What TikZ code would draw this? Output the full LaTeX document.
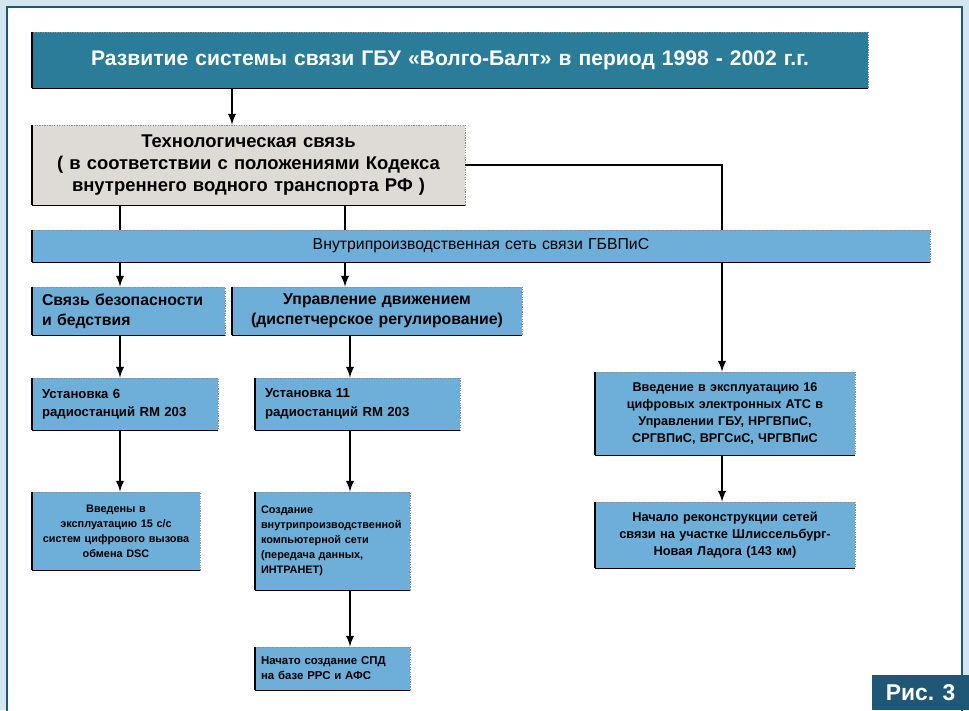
\documentclass[tikz,border=0pt]{standalone}
\usepackage{fontspec}
\setmainfont{Liberation Sans}
\usepackage{tikz}
\usetikzlibrary{arrows, positioning, calc}
\definecolor{frame-bg}{HTML}{D3E5EF}
\definecolor{frame-line}{HTML}{1F5876}
\definecolor{head-teal}{HTML}{2B7C98}
\definecolor{box-blue}{HTML}{6DAFD9}
\definecolor{box-grey}{HTML}{DEDAD6}

\begin{document}
\begin{tikzpicture}[x=0.02cm, y=-0.02cm,
    blok/.style={draw=black!45, dash pattern=on 0.7pt off 0.7pt, fill=box-blue, inner xsep=0.2cm, inner ysep=0pt,
        font=\bfseries, align=left,
        append after command={(\tikzlastnode.north west) edge[solid, line width=1.3pt, black] (\tikzlastnode.south west)
            (\tikzlastnode.south west) edge[solid, line width=0.6pt, black] (\tikzlastnode.south east)}},
    head/.style={blok, fill=head-teal, text=white, font=\bfseries\fontsize{12}{14}\selectfont, align=center},
    tech/.style={blok, fill=box-grey, font=\bfseries\fontsize{10.5}{12.5}\selectfont, align=center},
    ln/.style={line width=1.1pt},
    arr/.style={-latex, line width=1.1pt}
]
    \useasboundingbox (0,0) rectangle (969,710);
    \fill [frame-bg] (0,0) rectangle (969,710);
    \filldraw [fill=white, draw=frame-line, line width=1.3pt] (7,7) rectangle (962,720);

    \coordinate (c0) at (232,0);
    \coordinate (c1) at (120,0);
    \coordinate (c2) at (345,0);
    \coordinate (c2b) at (350,0);
    \coordinate (c3) at (722,0);

    \node (title) [head, text width=16.32cm, minimum height=1.12cm] at (450,60)
        {Развитие системы связи ГБУ «Волго-Балт» в период 1998 - 2002 г.г.};
    \node (tech) [tech, text width=8.26cm, minimum height=1.6cm] at (248.5,165)
        {Технологическая связь\\( в соответствии с положениями Кодекса\\внутреннего водного транспорта РФ )};
    \node (bar) [blok, align=center, text width=17.56cm, minimum height=0.64cm,
        font=\fontsize{9}{10}\selectfont] at (481,246)
        {Внутрипроизводственная сеть связи ГБВПиС};

    \node (safe) [blok, text width=3.46cm, minimum height=0.96cm, font=\bfseries\fontsize{9}{11.5}\selectfont] at (128.5,311)
        {Связь безопасности\\и бедствия};
    \node (traffic) [blok, align=center, text width=5.4cm, minimum height=0.96cm, font=\bfseries\fontsize{9}{11.5}\selectfont] at (377,311)
        {Управление движением\\(диспетчерское регулирование)};

    \node (radio6) [blok, text width=3.32cm, minimum height=1.04cm, font=\bfseries\fontsize{7.5}{10.5}\selectfont] at (125,404)
        {Установка 6\\радиостанций RM 203};
    \node (radio11) [blok, text width=3.7cm, minimum height=1.04cm, font=\bfseries\fontsize{7.5}{10.5}\selectfont] at (357.5,404)
        {Установка 11\\радиостанций RM 203};

    \node (dsc) [blok, align=center, inner xsep=0.1cm, text width=3.16cm, minimum height=1.56cm, font=\bfseries\fontsize{6.2}{8.6}\selectfont] at (116,531)
        {Введены в\\эксплуатацию 15 с/с\\систем цифрового вызова\\обмена DSC};
    \node (lan) [blok, inner xsep=0.12cm, text width=2.86cm, minimum height=1.96cm, font=\bfseries\fontsize{6.2}{8.6}\selectfont] at (332.5,541)
        {Создание\\внутрипроизводственной\\компьютерной сети\\(передача данных,\\ИНТРАНЕТ)};
    \node (spd) [blok, inner xsep=0.12cm, text width=2.86cm, minimum height=0.86cm, font=\bfseries\fontsize{6.5}{8.6}\selectfont] at (332.5,668.5)
        {Начато создание СПД\\на базе РРС и АФС};

    \node (ats) [blok, align=center, text width=4.8cm, minimum height=1.66cm, font=\bfseries\fontsize{7.2}{9.6}\selectfont] at (725,413.5)
        {Введение в эксплуатацию 16\\цифровых электронных АТС в\\Управлении ГБУ, НРГВПиС,\\СРГВПиС, ВРГСиС, ЧРГВПиС};
    \node (recon) [blok, align=center, text width=4.8cm, minimum height=1.32cm, font=\bfseries\fontsize{7.3}{9.8}\selectfont] at (725,535)
        {Начало реконструкции сетей\\связи на участке Шлиссельбург-\\Новая Ладога (143 км)};

    \node (fig) [fill=frame-line, text=white, minimum width=1.94cm, minimum height=0.7cm,
        font=\bfseries\fontsize{13}{15}\selectfont] at (920.5,692.5) {Рис. 3};

    % connectors
    \draw [arr] (title.south -| c0) -- (tech.north -| c0);
    \draw [ln] (tech.south -| c1) -- (bar.north -| c1);
    \draw [ln] (tech.south -| c2) -- (bar.north -| c2);
    \draw [ln] (tech.east) -| (bar.north -| c3);
    \draw [arr] (bar.south -| c1) -- (safe.north -| c1);
    \draw [arr] (bar.south -| c2) -- (traffic.north -| c2);
    \draw [arr] (bar.south -| c3) -- (ats.north -| c3);
    \draw [arr] (safe.south -| c1) -- (radio6.north -| c1);
    \draw [arr] (radio6.south -| c1) -- (dsc.north -| c1);
    \draw [arr] (traffic.south -| c2b) -- (radio11.north -| c2b);
    \draw [arr] (radio11.south -| c2b) -- (lan.north -| c2b);
    \draw [arr] (lan.south -| c2b) -- (spd.north -| c2b);
    \draw [arr] (ats.south -| c3) -- (recon.north -| c3);
\end{tikzpicture}
\end{document}
